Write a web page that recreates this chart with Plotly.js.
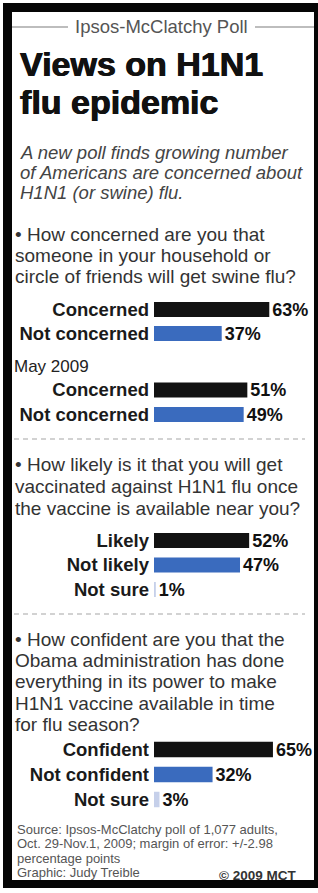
<!DOCTYPE html>
<html>
<head>
<meta charset="utf-8">
<script src="https://cdn.plot.ly/plotly-3.0.1.min.js"></script>
<style>html,body{margin:0;padding:0;background:#fff;}#chart{width:318px;height:893px;}</style>
</head>
<body>
<div id="chart"></div>
<script>
// ---- data ----
const q1Categories = ['Concerned', 'Not concerned'];
const q1Now = [63, 37];
const q1May2009 = [51, 49];
const q2Categories = ['Likely', 'Not likely', 'Not sure'];
const q2Values = [52, 47, 1];
const q3Categories = ['Confident', 'Not confident', 'Not sure'];
const q3Values = [65, 32, 3];

const kicker = 'Ipsos-McClatchy Poll';
const titleLines = ['Views on H1N1', 'flu epidemic'];
const subtitleLines = ['A new poll finds growing number', 'of Americans are concerned about', 'H1N1 (or swine) flu.'];
const q1Lines = ['\u2022 How concerned are you that', 'someone in your household or', 'circle of friends will get swine flu?'];
const mayLabel = 'May 2009';
const q2Lines = ['\u2022 How likely is it that you will get', 'vaccinated against H1N1 flu once', 'the vaccine is available near you?'];
const q3Lines = ['\u2022 How confident are you that the', 'Obama administration has done', 'everything in its power to make', 'H1N1 vaccine available in time', 'for flu season?'];
const sourceLines = ['Source: Ipsos-McClatchy poll of 1,077 adults,', 'Oct. 29-Nov.1, 2009; margin of error: +/-2.98', 'percentage points', 'Graphic: Judy Treible'];
const credit = '\u00a9 2009 MCT';

// ---- layout helpers ----
const W = 318, H = 893;
const FONT = 'Liberation Sans, Arial, Helvetica, sans-serif';
const px = x => x / W;
const py = y => 1 - y / H;
const colorsFor = n => ['#121212', '#3a6bbe', '#c6d0ea'].slice(0, n);
const pct = arr => arr.map(v => v + '%');

function txt(x, base, text, fs, opts) {
  opts = opts || {};
  const font = {family: FONT, size: fs, color: opts.color || '#333'};
  if (opts.weight) font.weight = opts.weight;
  if (opts.style) font.style = opts.style;
  if (opts.shadow) font.shadow = opts.shadow;
  return {
    xref: 'paper', yref: 'paper',
    x: px(x), y: py(base - 0.35 * fs),
    xanchor: opts.anchor || 'left', yanchor: 'middle',
    text: text, showarrow: false, borderpad: 0, font: font
  };
}
function lines(arr, x, bases, fs, opts) { return arr.map((t, i) => txt(x, bases[i], t, fs, opts)); }

function barTrace(cats, vals, yax) {
  return {
    type: 'bar', orientation: 'h', x: vals, y: cats, xaxis: 'x', yaxis: yax,
    marker: {color: colorsFor(vals.length), line: {width: 0}},
    text: pct(vals), textposition: 'outside', cliponaxis: false, constraintext: 'none',
    textfont: {family: FONT, size: 18, color: '#111', weight: 'bold'},
    hoverinfo: 'skip', showlegend: false
  };
}
function yAxis(top, bottom) {
  return {
    type: 'category', autorange: 'reversed', domain: [py(bottom), py(top)], anchor: 'x',
    showgrid: false, zeroline: false, showline: false, ticks: '',
    ticklabelstandoff: 4,
    tickfont: {family: FONT, size: 18.5, color: '#1a1a1a', weight: 'bold'}
  };
}

const data = [
  barTrace(q1Categories, q1Now, 'y'),
  barTrace(q1Categories, q1May2009, 'y2'),
  barTrace(q2Categories, q2Values, 'y3'),
  barTrace(q3Categories, q3Values, 'y4')
];

const annotations = [].concat(
  [txt(161.5, 33, kicker, 18.5, {anchor: 'center', color: '#555'})],
  lines(titleLines, 19, [76, 114], 34, {color: '#111', weight: 'bold', shadow: '0.6px 0 0 #111, -0.4px 0 0 #111'}),
  lines(subtitleLines, 19, [158.5, 178.5, 198.5], 18.5, {color: '#444', style: 'italic'}),
  lines(q1Lines, 14, [241, 262.5, 283.5], 19, {color: '#333'}),
  [txt(13, 372, mayLabel, 17, {color: '#222'})],
  lines(q2Lines, 14, [471, 493.5, 515.5], 19, {color: '#333'}),
  lines(q3Lines, 14, [646, 667, 688.5, 710, 731], 19, {color: '#333'}),
  lines(sourceLines, 16, [834, 848.5, 863, 877.5], 13, {color: '#555'}),
  [txt(297, 880, credit, 13.5, {anchor: 'right', color: '#333', weight: 'bold'})]
);

const rule = (x0, x1, y, dash, color, w) => ({type: 'line', xref: 'paper', yref: 'paper',
  x0: px(x0), x1: px(x1), y0: py(y), y1: py(y), line: {color: color, width: w, dash: dash}});

const shapes = [
  {type: 'rect', xref: 'paper', yref: 'paper', x0: px(3), x1: px(318), y0: py(888), y1: py(3),
   fillcolor: '#050505', line: {width: 0}, layer: 'below'},
  {type: 'rect', xref: 'paper', yref: 'paper', x0: px(12), x1: px(314), y0: py(880), y1: py(12),
   fillcolor: '#ffffff', line: {width: 0}, layer: 'below'},
  rule(12, 68, 27, 'solid', '#bdbdbd', 2),
  rule(255, 314, 27, 'solid', '#bdbdbd', 2),
  rule(14, 305, 439, '5px,4px', '#c4c4c4', 1.5),
  rule(14, 305, 614, '5px,4px', '#c4c4c4', 1.5)
];

const layout = {
  width: W, height: H,
  margin: {l: 0, r: 0, t: 0, b: 0, pad: 0},
  paper_bgcolor: '#ffffff', plot_bgcolor: 'rgba(0,0,0,0)',
  showlegend: false, bargap: 0.38,
  xaxis: {range: [0, 80], domain: [px(154), px(300.4)], visible: false, fixedrange: true},
  yaxis: yAxis(297.5, 345.5),
  yaxis2: yAxis(377.75, 426.75),
  yaxis3: yAxis(528.25, 601.75),
  yaxis4: yAxis(737, 812),
  annotations: annotations,
  shapes: shapes
};

Plotly.newPlot('chart', data, layout, {displayModeBar: false, staticPlot: true});
</script>
</body>
</html>
